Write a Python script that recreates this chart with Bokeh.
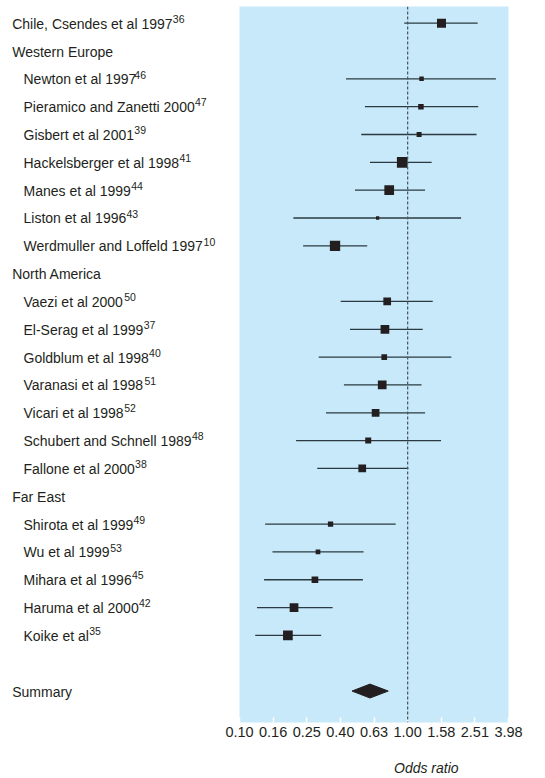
import numpy as np
from bokeh.plotting import figure
from bokeh.models import Range1d, FixedTicker, PrintfTickFormatter, Span, Title, ColumnDataSource
from bokeh.layouts import row
from bokeh.embed import file_html
from bokeh.resources import INLINE
from bokeh.core.properties import value

FONT = "Liberation Sans"
TEXT_COLOR = "#231f20"

# ---- data -------------------------------------------------------------
row_labels = [
    "Chile, Csendes et al 1997",
    "Western Europe",
    "Newton et al 1997",
    "Pieramico and Zanetti 2000",
    "Gisbert et al 2001",
    "Hackelsberger et al 1998",
    "Manes et al 1999",
    "Liston et al 1996",
    "Werdmuller and Loffeld 1997",
    "North America",
    "Vaezi et al 2000",
    "El-Serag et al 1999",
    "Goldblum et al 1998",
    "Varanasi et al 1998",
    "Vicari et al 1998",
    "Schubert and Schnell 1989",
    "Fallone et al 2000",
    "Far East",
    "Shirota et al 1999",
    "Wu et al 1999",
    "Mihara et al 1996",
    "Haruma et al 2000",
    "Koike et al",
    "",
    "Summary",
]
row_refs = ["36", "", "46", "47", "39", "41", "44", "43", "10", "",
            "50", "37", "40", "51", "52", "48", "38", "",
            "49", "53", "45", "42", "35", "", ""]
row_level = [0, 0, 1, 1, 1, 1, 1, 1, 1, 0, 1, 1, 1, 1, 1, 1, 1, 0, 1, 1, 1, 1, 1, 0, 0]

studies = [
    "Chile, Csendes et al 1997",
    "Newton et al 1997",
    "Pieramico and Zanetti 2000",
    "Gisbert et al 2001",
    "Hackelsberger et al 1998",
    "Manes et al 1999",
    "Liston et al 1996",
    "Werdmuller and Loffeld 1997",
    "Vaezi et al 2000",
    "El-Serag et al 1999",
    "Goldblum et al 1998",
    "Varanasi et al 1998",
    "Vicari et al 1998",
    "Schubert and Schnell 1989",
    "Fallone et al 2000",
    "Shirota et al 1999",
    "Wu et al 1999",
    "Mihara et al 1996",
    "Haruma et al 2000",
    "Koike et al",
]
odds_ratio = [1.59, 1.21, 1.20, 1.17, 0.929, 0.777, 0.663, 0.370,
              0.756, 0.733, 0.726, 0.706, 0.645, 0.583, 0.537,
              0.348, 0.293, 0.281, 0.211, 0.194]
ci_low = [0.955, 0.430, 0.557, 0.530, 0.597, 0.486, 0.209, 0.239,
          0.400, 0.454, 0.296, 0.418, 0.327, 0.217, 0.290,
          0.142, 0.157, 0.140, 0.127, 0.124]
ci_high = [2.61, 3.35, 2.63, 2.57, 1.39, 1.27, 2.08, 0.575,
           1.41, 1.23, 1.82, 1.21, 1.27, 1.58, 1.01,
           0.849, 0.547, 0.542, 0.358, 0.306]
weight = [9, 4.5, 5.5, 5, 10.7, 9.7, 3.3, 10.3,
          7.7, 8.7, 5.7, 8.7, 7.7, 6, 7.7,
          5.3, 4.7, 6.7, 8.7, 9.7]

summary_or = 0.597
summary_low = 0.467
summary_high = 0.767

tick_values = [0.1, 0.1585, 0.2512, 0.3981, 0.631, 1.0, 1.5849, 2.5119, 3.981]

# ---- text width (Liberation Sans / Arial advance widths, per 1000 em) ----
ADV = {' ': 278, ',': 278, '-': 333, '.': 278,
       'A': 667, 'C': 722, 'E': 667, 'F': 611, 'G': 778, 'H': 722, 'K': 667,
       'L': 556, 'M': 833, 'N': 722, 'P': 667, 'S': 667, 'V': 667, 'W': 944,
       'Z': 611, 'a': 556, 'b': 556, 'c': 500, 'd': 556, 'e': 556, 'f': 278,
       'g': 556, 'h': 556, 'i': 222, 'k': 500, 'l': 222, 'm': 833, 'n': 556,
       'o': 556, 'p': 556, 'r': 333, 's': 500, 't': 278, 'u': 556, 'z': 500}


def text_width(s, size):
    return sum(ADV.get(c, 556) for c in s) * size / 1000.0


LABEL_SIZE = 14
SUP_SIZE = 10.5

# ---- layout ------------------------------------------------------------
H = 778
TOP = 6
BOTTOM = 56
yr = Range1d(start=25.13, end=-0.6)

row_y = list(range(len(row_labels)))
study_y = [row_labels.index(s) for s in studies]
summary_y = row_labels.index("Summary")

# left: labels
LW = 219
left = figure(width=LW, height=H, x_range=Range1d(0, LW), y_range=yr,
              output_backend="svg", toolbar_location=None,
              min_border_left=0, min_border_right=0, min_border_top=TOP,
              min_border_bottom=BOTTOM)
left.axis.visible = False
left.grid.visible = False
left.outline_line_color = None
left.background_fill_color = "white"
indent_x = [11.7, 23.0]
label_x = [indent_x[l] for l in row_level]
left.text(x=label_x, y=row_y, text=row_labels,
          text_font=value(FONT), text_font_size=f"{LABEL_SIZE}px",
          text_baseline="middle", text_align="left", y_offset=0.5,
          text_color=TEXT_COLOR)
sup_x = [x + text_width(t, LABEL_SIZE) + 0.3 for x, t in zip(label_x, row_labels)]
left.text(x=sup_x, y=row_y, text=row_refs,
          text_font=value(FONT), text_font_size=f"{SUP_SIZE}px",
          text_baseline="middle", text_align="left", y_offset=-4.3,
          text_color=TEXT_COLOR)

# right: forest plot
p = figure(width=310, height=H, x_axis_type="log",
           x_range=Range1d(0.1, 10 ** 0.6), y_range=yr,
           output_backend="svg", toolbar_location=None,
           min_border_left=20, min_border_right=21, min_border_top=TOP,
           min_border_bottom=BOTTOM)
p.background_fill_color = "#c8e9f9"
p.border_fill_color = "white"
p.outline_line_color = None
p.grid.visible = False
p.yaxis.visible = False
p.xaxis.ticker = FixedTicker(ticks=tick_values)
p.xaxis.formatter = PrintfTickFormatter(format="%.2f")
p.xaxis.minor_tick_line_color = None
p.xaxis.axis_line_color = None
p.xaxis.major_tick_in = 5
p.xaxis.major_tick_out = 0
p.xaxis.major_tick_line_color = "white"
p.xaxis.major_tick_line_width = 1.5
p.xaxis.major_label_text_font = FONT
p.xaxis.major_label_text_font_size = "14.5px"
p.xaxis.major_label_text_color = TEXT_COLOR
p.xaxis.major_label_standoff = 4

p.add_layout(Span(location=1.0, dimension="height", line_color="#4a5a66",
                  line_dash="3 2", line_width=1.3))

src = ColumnDataSource(dict(est=odds_ratio, lo=ci_low, hi=ci_high,
                            w=weight, y=study_y))
p.segment(x0="lo", y0="y", x1="hi", y1="y", source=src,
          line_color="#2b3a42", line_width=1.3)
p.scatter(x="est", y="y", size="w", marker="square", source=src,
          fill_color="#231f20", line_color=None)

half_h = 0.25
p.patch(x=[summary_low, summary_or, summary_high, summary_or],
        y=[summary_y, summary_y - half_h, summary_y, summary_y + half_h],
        fill_color="#231f20", line_color="#231f20")

p.add_layout(Title(text=" ", text_font_size="12px", standoff=0), "below")
p.add_layout(Title(text="Odds ratio", align="left", offset=154.5,
                   text_font=FONT, text_font_size="14px",
                   text_font_style="italic", text_color=TEXT_COLOR,
                   standoff=4), "below")

layout = row(left, p)
open("out.html", "w").write(file_html(layout, INLINE))
